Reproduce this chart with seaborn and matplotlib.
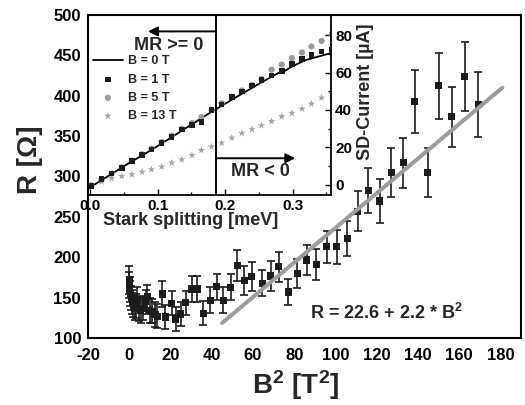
import matplotlib
matplotlib.use('Agg')
import matplotlib.pyplot as plt
import seaborn as sns
from matplotlib.ticker import MultipleLocator, FixedLocator, FormatStrFormatter

# ---------------- data: main panel (R vs B^2) ----------------
b2 = [0.0, 0.1, 0.3, 0.5, 1.0, 1.5, 2.0, 2.6, 3.3, 4.0, 4.8, 5.5, 6.5, 8.1, 8.8,
      10.0, 11.2, 12.5, 13.7, 16.1, 17.5, 20.5, 22.6, 25.0, 27.5, 30.4, 33.1,
      36.0, 39.2, 42.5, 45.7, 49.2, 52.3, 55.7, 59.5, 64.6, 68.6, 72.6, 77.2,
      81.5, 86.0, 90.7, 95.7, 100.6, 105.7, 110.9, 115.9, 121.5, 127.0, 132.8,
      138.5, 144.7, 150.2, 156.5, 162.8, 169.2]
r_ohm = [172, 166, 160, 155, 150, 145, 141, 137, 140, 148, 136, 134, 137, 145, 151,
         134, 133, 129, 127, 154.5, 126, 143, 123.5, 129.7, 143.7, 160.7, 160.7,
         130.6, 147, 163.5, 147, 162.8, 190, 171, 176, 167.7, 176.8, 188, 157,
         180, 196.6, 191, 213, 213, 223.5, 257, 283, 269.7, 304.7, 317,
         392.6, 305, 412.5, 374, 423.6, 389]
r_err = [17, 16, 16, 15, 15, 15, 15, 15, 15, 15, 15, 15, 15, 15, 15,
         15, 15, 15, 15, 16, 15, 15, 15, 15, 15, 16, 16,
         15, 16, 16, 16, 16, 19, 18, 18, 16, 18, 19, 16,
         18, 19, 19, 20, 21, 22, 25, 28, 27, 30, 31,
         39, 30, 41, 37, 43, 40]
fit_b2 = [45, 181]
fit_r = [118.5, 410]
fit_text = 'R = 22.6 + 2.2 * B$^\\mathbf{2}$'

# ---------------- data: inset (SD current vs Stark splitting) ----------------
stark_line = [0.0, 0.02, 0.04, 0.06, 0.08, 0.10, 0.12, 0.14, 0.16, 0.18, 0.20,
              0.22, 0.24, 0.26, 0.27, 0.28, 0.29, 0.30, 0.32, 0.34, 0.357]
cur_b0 = [-1.5, 3.0, 7.5, 12.0, 16.2, 20.6, 25.2, 29.8, 34.4, 39.0, 43.3,
          47.6, 51.8, 56.0, 58.0, 60.0, 61.2, 63.5, 66.8, 68.8, 70.5]
stark_pts = [0.002, 0.017, 0.032, 0.047, 0.062, 0.077, 0.091, 0.106, 0.121, 0.136,
             0.151, 0.165, 0.180, 0.195, 0.210, 0.225, 0.240, 0.254, 0.269, 0.284,
             0.299, 0.314, 0.328, 0.343, 0.358]
cur_b1 = [-0.8, 2.9, 6.0, 9.0, 12.5, 15.8, 18.8, 22.2, 25.6, 29.5, 32.0, 33.5, 40.0,
          43.0, 46.8, 50.0, 53.2, 56.0, 58.4, 61.0, 64.6, 67.3, 69.4, 71.4, 72.5]
cur_b5 = [-0.5, 2.5, 5.8, 9.2, 12.8, 16.2, 19.3, 22.8, 26.2, 29.8, 33.0, 36.2, 40.1,
          43.6, 47.0, 50.4, 53.4, 56.6, 61.6, 64.3, 67.8, 70.8, 74.0, 77.0, 80.6]
cur_b13 = [-1.0, 1.5, 3.3, 4.5, 5.4, 6.8, 8.1, 9.5, 11.6, 13.4, 15.7, 18.4, 20.3,
           22.3, 25.0, 27.6, 29.6, 31.7, 33.9, 36.5, 38.3, 40.6, 43.3, 46.5, 48.6]
series_labels = ['B = 0 T', 'B = 1 T', 'B = 5 T', 'B = 13 T']
inset_xticks = [0.0, 0.1, 0.2, 0.3]
inset_yticks = [0, 20, 40, 60, 80]
mr_split = 0.1867

# ---------------- style ----------------
sns.set_style('white')
plt.rcParams['font.family'] = ['Liberation Sans', 'DejaVu Sans']
plt.rcParams['font.weight'] = 'bold'
plt.rcParams['axes.labelweight'] = 'bold'
plt.rcParams['axes.unicode_minus'] = False
plt.rcParams['mathtext.fontset'] = 'custom'
plt.rcParams['mathtext.rm'] = 'Liberation Sans:bold'
plt.rcParams['mathtext.bf'] = 'Liberation Sans:bold'
plt.rcParams['mathtext.it'] = 'Liberation Sans:bold'

W, H = 525, 405
fig = plt.figure(figsize=(W / 100, H / 100), dpi=100)


def frac(x0, y0, x1, y1):
    return [x0 / W, 1 - y1 / H, (x1 - x0) / W, (y1 - y0) / H]


ax = fig.add_axes(frac(88, 15, 521, 338))
ins = fig.add_axes(frac(88, 15, 331, 195))

# ---------------- main panel ----------------
dark = '#1c1c1c'
ax.errorbar(b2, r_ohm, yerr=r_err, fmt='none', ecolor=dark, elinewidth=1.2,
            capsize=3, capthick=1.2, zorder=2)
sns.scatterplot(x=b2, y=r_ohm, marker='s', color=dark, s=26, edgecolor='none',
                ax=ax, zorder=3, legend=False)
sns.lineplot(x=fit_b2, y=fit_r, color='#9d9d9d', lw=2.9, ax=ax, zorder=4)
ax.text(124.5, 131, fit_text, fontsize=13, ha='center', va='center',
        fontweight='bold')

ax.set_xlim(-20, 190)
ax.set_ylim(100, 500)
ax.xaxis.set_major_locator(MultipleLocator(20))
ax.xaxis.set_minor_locator(MultipleLocator(10))
ax.yaxis.set_major_locator(MultipleLocator(50))
ax.yaxis.set_minor_locator(MultipleLocator(25))
ax.tick_params(which='both', direction='in', top=False, right=False,
               width=1.1, colors='black', labelsize=12)
ax.tick_params(which='major', length=5)
ax.tick_params(which='minor', length=2.8)
ax.tick_params(axis='x', pad=7)
ax.tick_params(axis='y', pad=5)
for lab in ax.get_xticklabels() + ax.get_yticklabels():
    lab.set_fontweight('bold')
for s in ax.spines.values():
    s.set_linewidth(1.5)
    s.set_color('black')
ax.set_xlabel('B$^\\mathbf{2}$ [T$^\\mathbf{2}$]', fontsize=20, fontweight='bold')
ax.xaxis.set_label_coords(0.48, -0.092)
ax.set_ylabel('R [Ω]', fontsize=20, fontweight='bold')
ax.yaxis.set_label_coords(-0.104, 0.551)

# ---------------- inset ----------------
ins.set_facecolor('none')
sns.lineplot(x=stark_line, y=cur_b0, color='black', lw=1.3, ax=ins,
             label=series_labels[0])
sns.scatterplot(x=stark_pts, y=cur_b1, marker='s', color=dark, s=16,
                edgecolor='none', ax=ins, label=series_labels[1], zorder=3)
sns.scatterplot(x=stark_pts, y=cur_b5, marker='o', color='#9a9a9a', s=20,
                edgecolor='none', ax=ins, label=series_labels[2], zorder=2)
sns.scatterplot(x=stark_pts, y=cur_b13, marker='*', color='#a3a3a3', s=32,
                edgecolor='none', ax=ins, label=series_labels[3], zorder=2)

ins.set_xlim(-0.003, 0.357)
ins.set_ylim(-5.6, 90.9)
ins.xaxis.set_major_locator(FixedLocator(inset_xticks))
ins.xaxis.set_minor_locator(FixedLocator([0.05, 0.15, 0.25, 0.35]))
ins.xaxis.set_major_formatter(FormatStrFormatter('%.1f'))
ins.yaxis.set_major_locator(FixedLocator(inset_yticks))
ins.yaxis.set_minor_locator(FixedLocator([10, 30, 50, 70]))
ins.yaxis.tick_right()
ins.yaxis.set_label_position('right')
ins.tick_params(which='both', direction='in', left=False, top=False,
                right=True, bottom=True, width=1.0, colors='black',
                labelsize=11, pad=3)
ins.tick_params(which='major', length=4)
ins.tick_params(which='minor', length=2.5)
for lab in ins.get_xticklabels() + ins.get_yticklabels():
    lab.set_fontweight('bold')
for s in ins.spines.values():
    s.set_linewidth(1.3)
    s.set_color('black')
ins.set_xlabel('Stark splitting [meV]', fontsize=13, fontweight='bold')
ins.xaxis.set_label_coords(0.424, -0.095)
ins.set_ylabel('SD-Current [µA]', fontsize=13, fontweight='bold')
ins.yaxis.set_label_coords(1.107, 0.572)

ins.axvline(mr_split, color='black', lw=1.4)
arrow_kw = dict(arrowstyle='-|>', color='black', lw=1.4, mutation_scale=14,
                shrinkA=0, shrinkB=0)
ins.annotate('', xy=(0.086, 82.1), xytext=(mr_split, 82.1), arrowprops=arrow_kw)
ins.annotate('', xy=(0.304, 14.1), xytext=(mr_split, 14.1), arrowprops=arrow_kw)
ins.text(0.117, 74.4, 'MR >= 0', fontsize=13, ha='center', va='center',
         fontweight='bold')
ins.text(0.253, 6.9, 'MR < 0', fontsize=13, ha='center', va='center',
         fontweight='bold')

leg = ins.legend(loc='upper left', bbox_to_anchor=(0.02, 0.775), frameon=False,
                 handlelength=2.4, handletextpad=0.4,
                 labelspacing=0.5, borderaxespad=0, borderpad=0,
                 prop={'weight': 'bold', 'size': 9})

fig.savefig('out.png', dpi=100)
